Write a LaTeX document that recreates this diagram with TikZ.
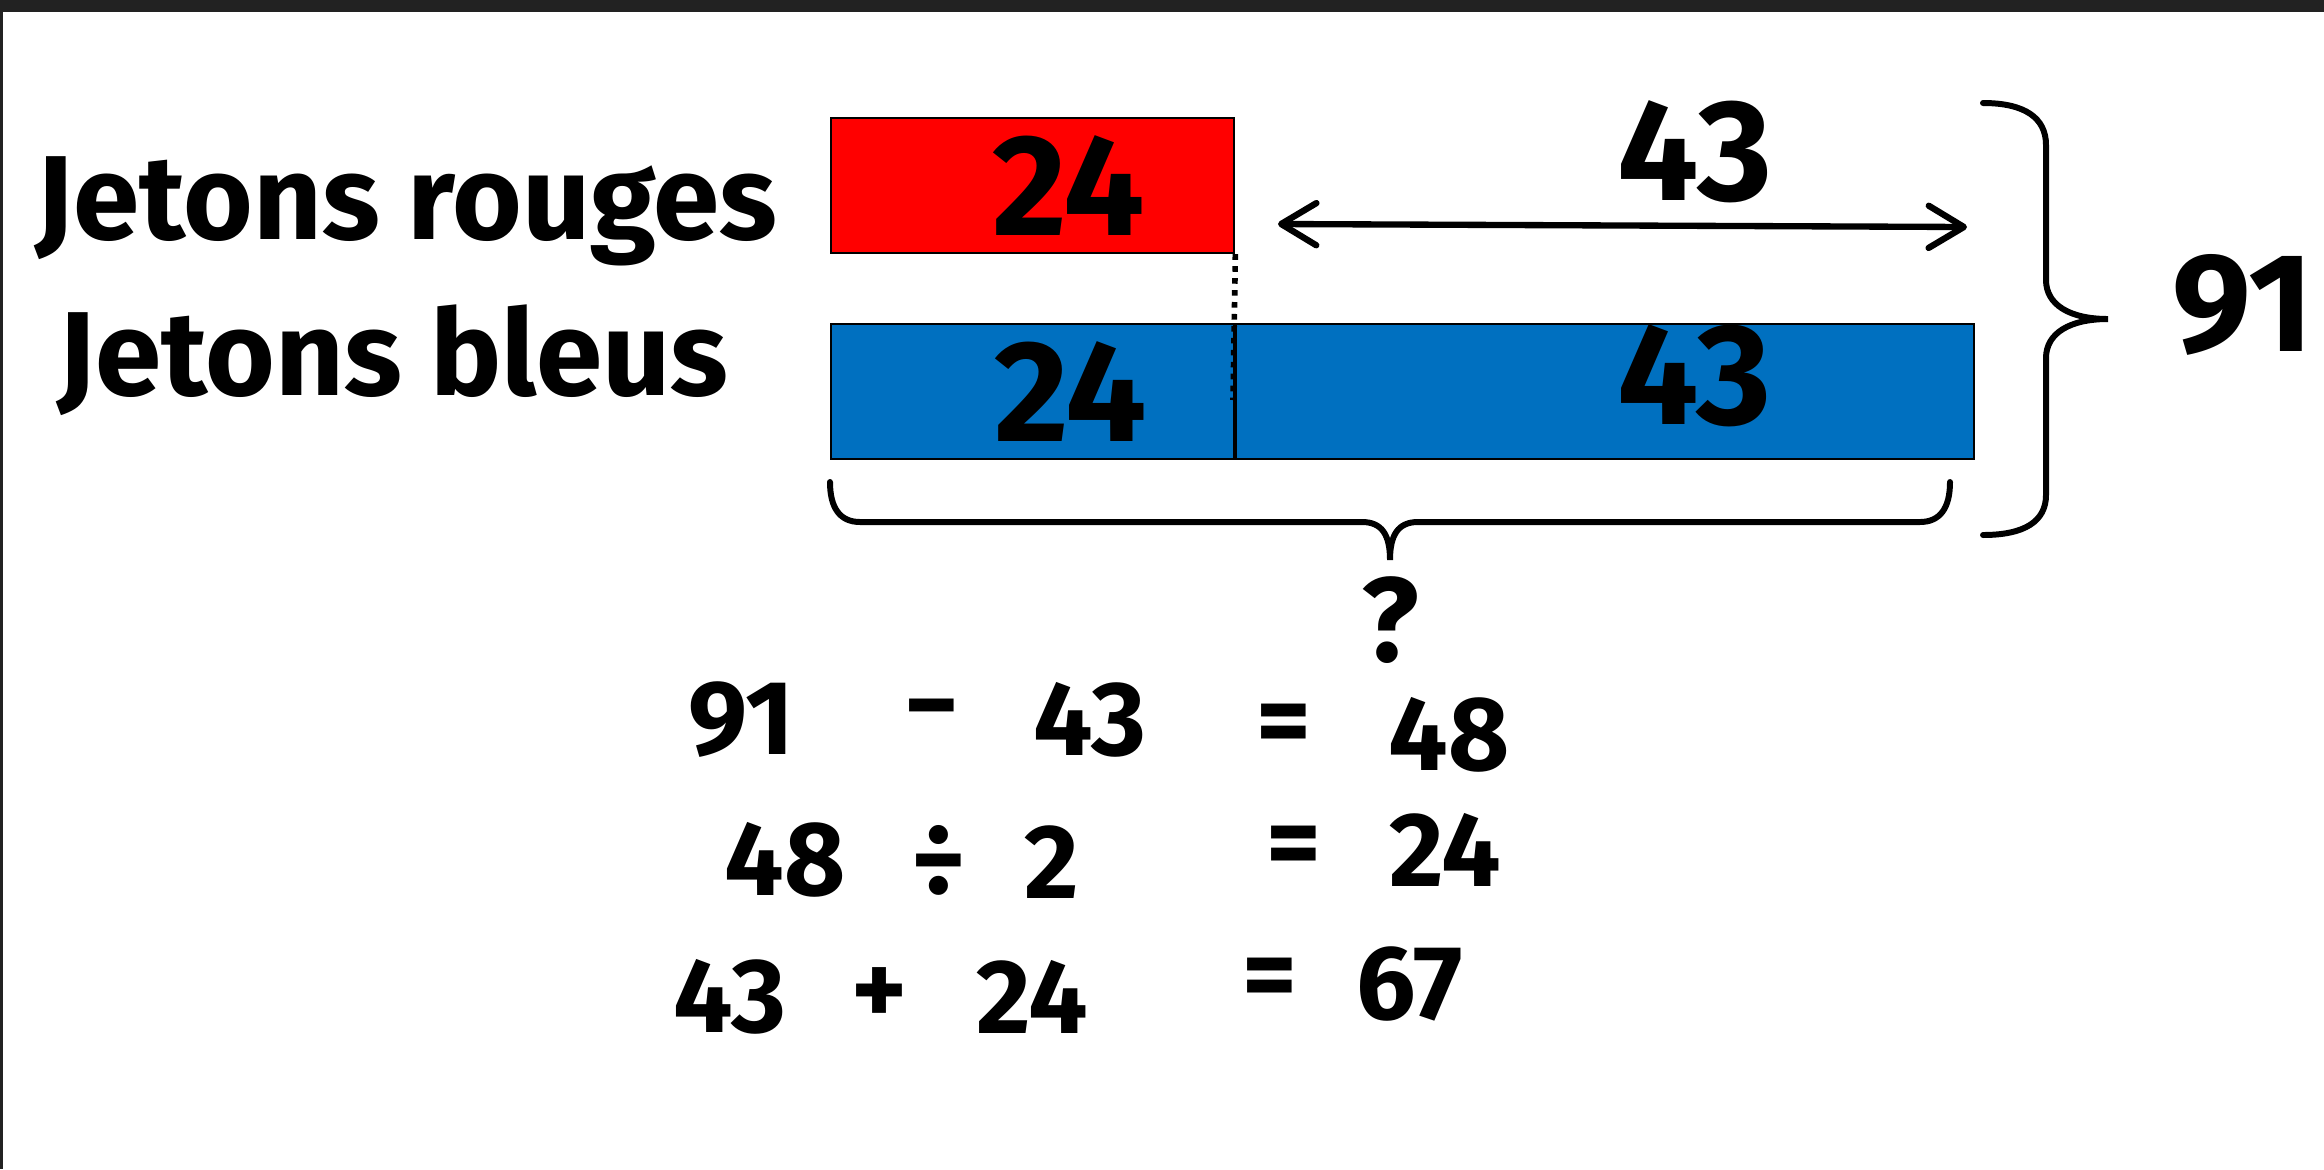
\documentclass[tikz,border=0pt]{standalone}
\usepackage{fontspec}
\setmainfont{Fira Sans}
\usetikzlibrary{arrows.meta,positioning,calc}
\definecolor{redbar}{RGB}{255,0,0}
\definecolor{bluebar}{RGB}{0,112,192}
\definecolor{frame}{RGB}{34,34,34}

\begin{document}
\begin{tikzpicture}[
    x=0.01cm, y=-0.01cm,
    bar/.style={draw, line width=0.6pt, inner sep=0pt, minimum height=1.35cm},
    num/.style={font=\fontsize{41}{48}\selectfont\bfseries},
    lbl/.style={font=\fontsize{34}{40}\selectfont\bfseries, anchor=east},
    calcul/.style={font=\fontsize{30}{36}\selectfont\bfseries},
    brace/.style={line width=1.7pt, line cap=round},
    arr/.style={{Straight Barb[length=10pt,width=12pt,round]}-{Straight Barb[length=10pt,width=12pt,round]}, line width=1.8pt}
]
\useasboundingbox (0,0) rectangle (2324,1169);
\fill[frame] (0,0) rectangle (2324,12);
\fill[frame] (0,0) rectangle (3,1169);

% bars
\node[bar, fill=redbar, minimum width=4.03cm, anchor=north west] (rouges) at (830,117) {};
\node[bar, fill=bluebar, minimum width=4.03cm, anchor=north west] (bleus1) at (830,323) {};
\node[bar, fill=bluebar, minimum width=7.37cm, right=0pt of bleus1] (bleus2) {};

\node[num] (n24r) at ($(rouges.center)+(36,0)$) {24};
\node[num] (n24b) at ($(bleus1.center)+(38,0)$) {24};
\node[num] (n43b) at ($(bleus2.center)+(89,-16)$) {43};

\node[lbl] (lrouges) at (790,211) {Jetons rouges};
\node[lbl] (lbleus) at (741,360) {Jetons bleus};

% dotted guide
\coordinate (dotend) at (1233,400);
\draw[line width=1.6pt, dash pattern=on 1.6pt off 1.8pt] (rouges.south east) -- (dotend);

% difference arrow
\coordinate (aL) at (1278,224);
\coordinate (aR) at (1967,227);
\draw[arr] (aL) -- node[num, pos=0.605, yshift=21pt] (n43) {43} (aR);

% total
\draw[brace] (1983,103) .. controls (2025,103) and (2046,118) .. (2046,145) -- (2046,280)
    .. controls (2046,305) and (2070,319) .. (2108,319)
    .. controls (2070,319) and (2046,333) .. (2046,358) -- (2046,495)
    .. controls (2046,521) and (2025,535) .. (1983,535);
\node[font=\fontsize{40}{48}\selectfont\bfseries, anchor=west] (total) at (2160,305) {91};

% unknown
\draw[brace] (830,482) .. controls (830,508) and (840,522) .. (860,522) -- (1362,522)
    .. controls (1382,522) and (1390,535) .. (1390,560)
    .. controls (1390,535) and (1398,522) .. (1418,522) -- (1920,522)
    .. controls (1940,522) and (1950,508) .. (1950,482);
\node[font=\fontsize{34}{40}\selectfont\bfseries] (quest) at (1390,620) {?};

% calculations
\node[calcul] (e1a) at (741,720) {91};
\node[calcul] (e1b) at (932,720) {−};
\node[calcul] (e1c) at (1090,720) {43};
\node[calcul] (e1d) at (1284,730) {=};
\node[calcul] (e1e) at (1449,735) {48};

\node[calcul] (e2a) at (785,860) {48};
\node[calcul] (e2b) at (939,860) {÷};
\node[calcul] (e2c) at (1052,862) {2};
\node[calcul] (e2d) at (1294,852) {=};
\node[calcul] (e2e) at (1445,850) {24};

\node[calcul] (e3a) at (730,997) {43};
\node[calcul] (e3b) at (879,997) {+};
\node[calcul] (e3c) at (1032,997) {24};
\node[calcul] (e3d) at (1270,984) {=};
\node[calcul] (e3e) at (1410,984) {67};
\end{tikzpicture}
\end{document}
